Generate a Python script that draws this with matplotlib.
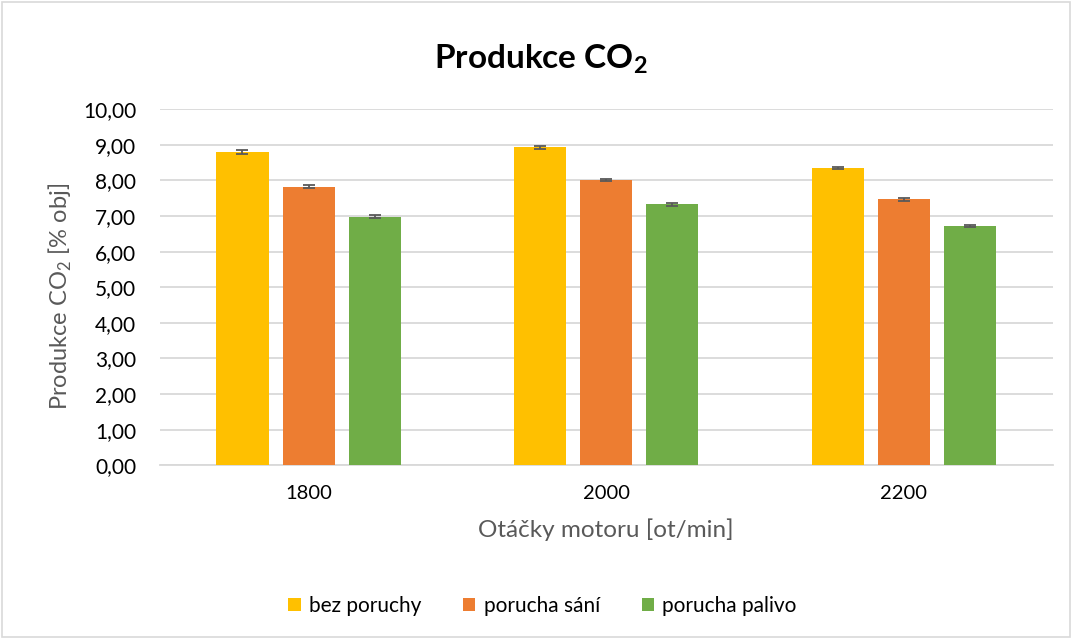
import matplotlib.pyplot as plt
import numpy as np
from matplotlib.patches import Rectangle

plt.rcParams['font.family'] = ['Lato', 'DejaVu Sans']
plt.rcParams['mathtext.fontset'] = 'custom'
plt.rcParams['mathtext.rm'] = 'Lato'
plt.rcParams['mathtext.bf'] = 'Lato:bold'

# ── Data ─────────────────────────────────────────────────────────────────────
categories = ["1800", "2000", "2200"]
series_names = ["bez poruchy", "porucha sání", "porucha palivo"]
bez_poruchy = [8.79, 8.93, 8.35]
porucha_sani = [7.83, 8.01, 7.47]
porucha_palivo = [6.98, 7.33, 6.72]
err_bez = [0.06, 0.05, 0.04]
err_sani = [0.04, 0.03, 0.04]
err_palivo = [0.04, 0.04, 0.04]
y_ticks = [0, 1, 2, 3, 4, 5, 6, 7, 8, 9, 10]

colors = ["#FFC000", "#ED7D31", "#70AD47"]
text_gray = "#595959"
grid_gray = "#D9D9D9"

# ── Plot ─────────────────────────────────────────────────────────────────────
fig = plt.figure(figsize=(10.72, 6.39), dpi=100)
ax = fig.add_axes([0.149, 0.272, 0.833, 0.557])

x = np.arange(len(categories))
width = 0.175
offset = 0.222
values = [bez_poruchy, porucha_sani, porucha_palivo]
errors = [err_bez, err_sani, err_palivo]

for i, (vals, errs, name, col) in enumerate(zip(values, errors, series_names, colors)):
    ax.bar(x + (i - 1) * offset, vals, width, color=col, label=name, zorder=3)
    ax.errorbar(x + (i - 1) * offset, vals, yerr=errs, fmt="none",
                ecolor=text_gray, elinewidth=1.3, capsize=4.5, capthick=1.3, zorder=4)

ax.set_xlim(-0.5, 2.5)
ax.set_ylim(0, 10)
ax.set_yticks(y_ticks)
ax.set_yticklabels([f"{v:.2f}".replace(".", ",") for v in y_ticks], fontsize=15)
ax.set_xticks(x)
ax.set_xticklabels(categories, fontsize=14.5)
ax.tick_params(axis="y", length=0, pad=17)
ax.tick_params(axis="x", length=0, pad=14)

ax.grid(axis="y", color=grid_gray, linewidth=1.3, zorder=0)
for s in ["top", "right", "left"]:
    ax.spines[s].set_visible(False)
ax.spines["bottom"].set_color(grid_gray)
ax.spines["bottom"].set_linewidth(1.3)

ax.set_xlabel("Otáčky motoru [ot/min]", fontsize=17.5, color=text_gray, labelpad=12)
ax.set_ylabel("Produkce CO$_2$ [% obj]", fontsize=17, color=text_gray)
ax.yaxis.set_label_coords(-0.096, 0.475)

fig.text(0.505, 0.908, r"Produkce CO$_\mathbf{2}$", ha="center", va="center",
         fontsize=24, fontweight="bold")

fig.legend(loc="center", bbox_to_anchor=(0.506, 0.052), ncol=3, frameon=False,
           fontsize=15, handlelength=0.6, handleheight=0.6, columnspacing=2.0,
           handletextpad=0.4)

fig.patches.append(Rectangle((0.002, 0.003), 0.996, 0.994, transform=fig.transFigure,
                             fill=False, edgecolor=grid_gray, linewidth=1.2))

fig.savefig("out.png", dpi=100)
